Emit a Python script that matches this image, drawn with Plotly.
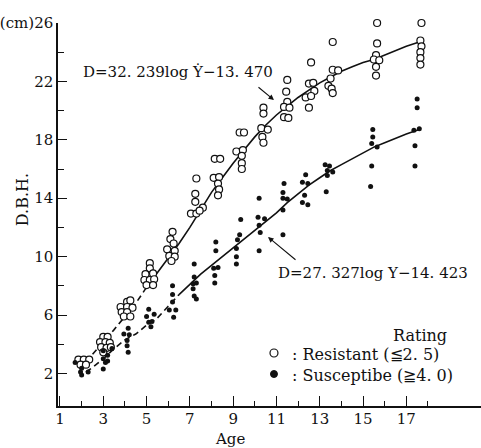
import plotly.graph_objects as go

# ---------------- data ----------------
res_age = [1.85, 2.1, 2.35, 1.95, 2.2,
           3.0, 3.2, 2.85, 3.1, 3.3, 2.9, 3.15, 3.35, 3.0,
           4.1, 4.25, 3.8, 4.1, 4.35, 3.85, 4.1, 3.95, 4.25,
           5.15, 5.15, 4.95, 5.3, 4.9, 5.15, 5.35, 5.0, 5.3,
           6.2, 6.1, 6.25, 5.95, 6.3, 6.05, 6.3, 6.15,
           7.3, 7.25, 7.25, 7.05, 7.3, 7.6, 7.45,
           8.15, 8.4, 8.1, 8.35, 8.3, 8.35, 8.3,
           9.3, 9.5, 9.15, 9.45, 9.4, 9.4, 9.4,
           10.4, 10.4, 10.3, 10.6, 10.35, 10.4,
           11.5, 11.45, 11.5, 11.35, 11.6, 11.35, 11.55,
           12.6, 12.5, 12.7, 12.75, 12.35, 12.6, 12.5,
           13.6, 13.6, 13.85, 13.5, 13.4, 13.55, 13.6,
           15.65, 15.65, 15.6, 15.5, 15.75, 15.6, 15.6,
           17.7, 17.7, 17.65, 17.7, 17.65, 17.65, 17.65]
res_dbh = [2.95, 2.95, 2.95, 2.6, 2.6,
           4.5, 4.5, 4.15, 4.15, 4.1, 3.8, 3.75, 3.8, 3.45,
           6.9, 7.0, 6.55, 6.55, 6.5, 6.2, 6.2, 5.9, 5.9,
           9.55, 9.2, 8.8, 8.85, 8.4, 8.4, 8.45, 8.05, 8.05,
           11.7, 11.2, 10.9, 10.5, 10.4, 10.05, 10.0, 9.7,
           15.35, 14.3, 13.75, 12.95, 12.95, 13.35, 13.15,
           16.7, 16.7, 15.4, 15.45, 15.0, 14.6, 14.2,
           18.5, 18.5, 17.2, 17.3, 16.9, 16.4, 16.0,
           20.2, 19.8, 18.8, 18.7, 18.2, 17.8,
           22.1, 21.3, 20.6, 20.25, 20.2, 19.55, 19.5,
           23.3, 21.85, 21.9, 21.35, 20.9, 21.0, 20.2,
           24.7, 22.8, 22.75, 22.2, 21.7, 21.5, 21.2,
           26.0, 24.6, 23.8, 23.5, 23.45, 23.0, 22.4,
           26.4, 26.0, 24.8, 24.4, 24.0, 23.6, 23.15]

sus_age = [1.7, 2.0, 2.0, 2.3, 1.95,
           3.4, 3.0, 3.2, 3.0, 3.2, 3.1, 3.0,
           4.15, 3.95, 4.2, 4.1, 4.1, 4.15,
           5.1, 5.35, 5.0, 5.25, 5.1, 5.2,
           6.2, 6.2, 6.2, 6.05, 6.35, 6.25,
           7.2, 7.2, 7.15, 7.3, 7.15, 7.2, 7.3,
           8.2, 8.2, 8.1, 8.3, 8.15, 8.15,
           9.35, 9.3, 9.2, 9.15, 9.15, 9.15,
           10.2, 10.15, 10.45, 10.2, 10.25, 10.2,
           11.35, 11.3, 11.3, 11.5, 11.3, 11.3,
           12.35, 12.2, 12.45, 12.3, 12.2, 12.45,
           13.25, 13.45, 13.6, 13.35, 13.35, 13.3,
           15.45, 15.45, 15.4, 15.65, 15.4, 15.35,
           17.5, 17.5, 17.35, 17.6, 17.4, 17.4]
sus_dbh = [2.75, 2.35, 1.9, 2.1, 2.1,
           3.7, 3.55, 3.25, 3.0, 2.85, 2.75, 2.3,
           5.1, 4.7, 4.65, 4.25, 3.9, 3.45,
           6.4, 6.05, 5.9, 5.55, 5.5, 5.2,
           8.0, 7.4, 6.9, 6.35, 6.35, 5.85,
           9.5, 8.6, 8.15, 8.2, 7.8, 7.3, 7.1,
           11.0, 10.4, 9.2, 9.25, 8.7, 8.2,
           12.55, 11.5, 11.15, 10.55, 10.0, 9.5,
           14.0, 12.7, 12.6, 12.15, 11.65, 10.4,
           15.0, 14.4, 14.0, 13.95, 13.2, 11.5,
           15.6, 15.1, 15.0, 14.2, 13.7, 13.55,
           16.3, 16.2, 15.8, 15.9, 15.55, 14.45,
           18.7, 18.2, 17.75, 17.5, 16.2, 14.8,
           20.8, 20.2, 18.65, 18.75, 17.6, 16.2]

# fitted curves as drawn (dashed lower part, solid upper part)
res_curve_dash_age = [2.2, 2.5, 3.0, 3.5, 4.0, 4.5, 5.0]
res_curve_dash_dbh = [2.8, 3.3, 4.2, 5.0, 5.9, 6.8, 7.9]
res_curve_age = [5.0, 5.5, 6.0, 6.5, 7.0, 7.5, 8.0, 8.5, 9.0, 9.5, 10.0, 10.5, 11.0,
                 11.5, 12.0, 12.5, 13.0, 13.5, 14.0, 14.5, 15.0, 15.5, 16.0, 16.5, 17.0, 17.6]
res_curve_dbh = [7.9, 8.9, 9.9, 10.9, 12.0, 13.2, 14.4, 15.4, 16.4, 17.3, 18.2, 19.0, 19.7,
                 20.3, 20.9, 21.4, 21.9, 22.3, 22.7, 23.0, 23.3, 23.5, 23.8, 24.1, 24.4, 24.7]
sus_curve_dash_age = [2.2, 2.5, 3.0, 3.5, 4.0, 4.5, 5.0, 5.5, 6.0, 6.5]
sus_curve_dash_dbh = [2.1, 2.4, 3.0, 3.7, 4.3, 4.7, 5.3, 5.8, 6.6, 7.4]
sus_curve_age = [6.5, 7.0, 7.5, 8.0, 8.5, 9.0, 9.5, 10.0, 10.5, 11.0, 11.5, 12.0, 12.5,
                 13.0, 13.5, 14.0, 14.5, 15.0, 15.5, 16.0, 16.5, 17.0, 17.6]
sus_curve_dbh = [7.4, 8.1, 8.8, 9.4, 10.0, 10.6, 11.2, 11.8, 12.4, 13.0, 13.7, 14.3, 14.9,
                 15.4, 15.9, 16.3, 16.7, 17.1, 17.5, 17.8, 18.1, 18.4, 18.7]

x_major = [1, 3, 5, 7, 9, 11, 13, 15, 17]
x_minor = [2, 4, 6, 8, 10, 12, 14, 16, 18]
y_major = [2, 6, 10, 14, 18, 22, 26]
y_major_text = ["2", "6", "10", "14", "18", "22", "(cm)26"]
y_minor = [4, 8, 12, 16, 20, 24]

# ---------------- layout geometry ----------------
W, H = 481, 448
L, R, T, B = 56, 0, 23, 42
FONT = "DejaVu Serif"
INK = "#111111"


def pp(px, py):
    return (px - L) / (W - L - R), (H - B - py) / (H - T - B)


fig = go.Figure()
line_style = dict(color=INK, width=1.6)
fig.add_trace(go.Scatter(x=res_curve_dash_age, y=res_curve_dash_dbh, mode="lines",
                         line=dict(line_style, dash="6px,4px"), hoverinfo="skip"))
fig.add_trace(go.Scatter(x=res_curve_age, y=res_curve_dbh, mode="lines",
                         line=line_style, hoverinfo="skip"))
fig.add_trace(go.Scatter(x=sus_curve_dash_age, y=sus_curve_dash_dbh, mode="lines",
                         line=dict(line_style, dash="6px,4px"), hoverinfo="skip"))
fig.add_trace(go.Scatter(x=sus_curve_age, y=sus_curve_dbh, mode="lines",
                         line=line_style, hoverinfo="skip"))
fig.add_trace(go.Scatter(x=res_age, y=res_dbh, mode="markers", name="Resistant",
                         marker=dict(symbol="circle", size=7, color="white",
                                     line=dict(color=INK, width=1.2)),
                         cliponaxis=False))
fig.add_trace(go.Scatter(x=sus_age, y=sus_dbh, mode="markers", name="Susceptibe",
                         marker=dict(symbol="circle", size=5, color=INK,
                                     line=dict(width=0)),
                         cliponaxis=False))

axis_common = dict(showline=True, linecolor=INK, linewidth=1.5, showgrid=False,
                   zeroline=False, ticks="inside", tickcolor=INK, tickwidth=1.3,
                   tickfont=dict(family=FONT, size=15, color=INK), fixedrange=True)

fig.update_xaxes(range=[0.908, 20.45], tickmode="array", tickvals=x_major,
                 ticktext=[str(v) for v in x_major], ticklen=10,
                 ticklabelstandoff=-2,
                 minor=dict(tickvals=x_minor, ticklen=5, ticks="inside",
                            tickcolor=INK, tickwidth=1.2),
                 **axis_common)
fig.update_yaxes(range=[-0.23, 26], tickmode="array", tickvals=y_major,
                 ticktext=y_major_text, ticklen=9,
                 minor=dict(tickvals=y_minor, ticklen=6, ticks="inside",
                            tickcolor=INK, tickwidth=1.2),
                 **axis_common)

annotations = []


def text(px, py, s, size=15, xanchor="center", angle=0):
    x, y = pp(px, py)
    annotations.append(dict(x=x, y=y, xref="paper", yref="paper", text=s,
                            showarrow=False, xanchor=xanchor, yanchor="middle",
                            textangle=angle,
                            font=dict(family=FONT, size=size, color=INK)))


def arrow(tail, tip):
    x, y = pp(*tip)
    annotations.append(dict(x=x, y=y, xref="paper", yref="paper", text="",
                            showarrow=True, arrowhead=2, arrowsize=1,
                            arrowwidth=1.1, arrowcolor=INK,
                            ax=tail[0] - tip[0], ay=tail[1] - tip[1]))


text(177, 72, "D=32. 239log Ẏ−13. 470", 15)
text(372, 273, "D=27. 327log Y−14. 423", 15)
arrow((256, 86), (273, 100))
arrow((296, 261), (267, 237))
text(20, 200, "D.B.H.", 16, angle=-90)
text(229, 439, "Age", 15)
text(420, 335, "Rating", 16)
text(289, 354, ": Resistant (≦2. 5)", 16, xanchor="left")
text(289, 375, ": Susceptibe (≧4. 0)", 16, xanchor="left")

shapes = []
cx, cy = pp(273, 353)
rx, ry = 4 / (W - L - R), 4 / (H - T - B)
shapes.append(dict(type="circle", xref="paper", yref="paper",
                   x0=cx - rx, x1=cx + rx, y0=cy - ry, y1=cy + ry,
                   line=dict(color=INK, width=1.2), fillcolor="white"))
cx, cy = pp(273, 374)
rx, ry = 3.5 / (W - L - R), 3.5 / (H - T - B)
shapes.append(dict(type="circle", xref="paper", yref="paper",
                   x0=cx - rx, x1=cx + rx, y0=cy - ry, y1=cy + ry,
                   line=dict(color=INK, width=1), fillcolor=INK))

fig.update_layout(width=W, height=H, margin=dict(l=L, r=R, t=T, b=B),
                  paper_bgcolor="white", plot_bgcolor="white", showlegend=False,
                  annotations=annotations, shapes=shapes,
                  font=dict(family=FONT, color=INK))

fig.write_html("out.html")
